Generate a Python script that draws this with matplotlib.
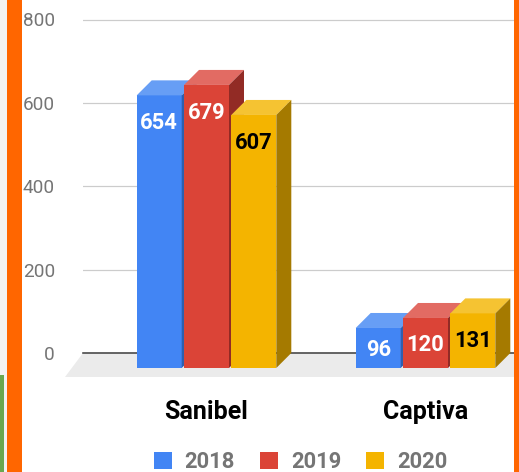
import matplotlib
matplotlib.use('Agg')
import matplotlib.pyplot as plt
from matplotlib.patches import Rectangle, Polygon, Patch

plt.rcParams['font.family'] = ['Roboto', 'DejaVu Sans']

# data
categories = ['Sanibel', 'Captiva']
years = ['2018', '2019', '2020']
values_2018 = [654, 96]
values_2019 = [679, 120]
values_2020 = [607, 131]
yticks = [0, 200, 400, 600, 800]

series = [values_2018, values_2019, values_2020]
front_colors = ['#4285f4', '#db4437', '#f4b400']
top_colors = ['#679ef5', '#e26b63', '#f5c332']
side_colors = ['#2f5fae', '#922b25', '#a57a00']
label_colors = ['white', 'white', 'black']

W, H, DPI = 519, 472, 72
fig = plt.figure(figsize=(W / DPI, H / DPI), dpi=DPI)
fig.patch.set_facecolor('white')

# axes placed in pixel terms: value 0 at 353px from top, 800 at 19.5px
px_per_unit = 333.5 / 800
ytop = 820
ax_h = ytop * px_per_unit
ax = fig.add_axes([83 / W, (H - 353) / H, 436 / W, ax_h / H])
cat_px = 219  # pixels between category centres
ax.set_xlim(-123.5 / cat_px, (436 - 123.5) / cat_px)
ax.set_ylim(0, ytop)
for s in ax.spines.values():
    s.set_visible(False)

# 3d depth offsets
dx = 15 / cat_px
dy = 15 / px_per_unit
step = 47.3 / cat_px
width = 45 / cat_px

# floor
fx0 = -123.5 / cat_px
ffront = -24 / px_per_unit
floor = Polygon([(fx0, 0), (2.0, 0), (2.0, ffront), (fx0 - 18 / cat_px, ffront)],
                closed=True, facecolor='#ebebeb', edgecolor='none', zorder=0.2,
                clip_on=False)
ax.add_patch(floor)

# grid
ax.set_yticks(yticks)
ax.set_yticklabels([str(t) for t in yticks])
ax.tick_params(axis='y', length=0, pad=28, labelsize=19, labelcolor='#757575')
ax.yaxis.grid(True, color='#cccccc', linewidth=1.2)
ax.set_axisbelow(True)
ax.axhline(0, color='#444444', linewidth=1.6, zorder=0.6, clip_on=False)

# bars
for ci in range(len(categories)):
    for si, vals in enumerate(series):
        v = vals[ci]
        x = ci + (si - 1) * step - width / 2
        z = 2 + si
        top = v - dy
        ax.add_patch(Rectangle((x, -dy), width, v, facecolor=front_colors[si],
                               edgecolor='none', zorder=z, clip_on=False))
        ax.add_patch(Polygon([(x, top), (x + width, top), (x + width + dx, v), (x + dx, v)],
                             closed=True, facecolor=top_colors[si], edgecolor='none',
                             zorder=z, clip_on=False))
        ax.add_patch(Polygon([(x + width, -dy), (x + width + dx, 0), (x + width + dx, v),
                              (x + width, top)],
                             closed=True, facecolor=side_colors[si], edgecolor='none',
                             zorder=z, clip_on=False))
        yc = max(top - 26 / px_per_unit, (top - dy) / 2)
        ax.text(x + width / 2, yc - 8 / px_per_unit, str(v), ha='center', va='baseline',
                fontsize=22, fontweight='bold', color=label_colors[si], zorder=z + 0.5)

ax.set_xticks(range(len(categories)))
ax.set_xticklabels(categories)
ax.tick_params(axis='x', length=0, pad=47, labelsize=25)
for lbl in ax.get_xticklabels():
    lbl.set_fontweight('bold')

# legend
handles = [Patch(facecolor=c, edgecolor='none', label=y) for c, y in zip(front_colors, years)]
fig.legend(handles=handles, loc='center', bbox_to_anchor=(300.5 / W, 10 / H), ncol=3,
           frameon=False, prop={'size': 22, 'weight': 'bold'}, labelcolor='#757575',
           handlelength=18 / 22, handleheight=18 / 22, handletextpad=13 / 22,
           columnspacing=25 / 22, borderpad=0, borderaxespad=0)

# screenshot frame strips
fig.add_artist(Rectangle((0, 0), 7 / W, 1, transform=fig.transFigure,
                         facecolor='#f3f3f3', edgecolor='none'))
fig.add_artist(Rectangle((0, 0), 4 / W, 97 / H, transform=fig.transFigure,
                         facecolor='#6aa84f', edgecolor='none'))
fig.add_artist(Rectangle((7 / W, 0), 15 / W, 1, transform=fig.transFigure,
                         facecolor='#ff6600', edgecolor='none'))
fig.add_artist(Rectangle((514 / W, 0), 5 / W, 1, transform=fig.transFigure,
                         facecolor='#ff6600', edgecolor='none'))

fig.savefig('out.png', dpi=DPI)
